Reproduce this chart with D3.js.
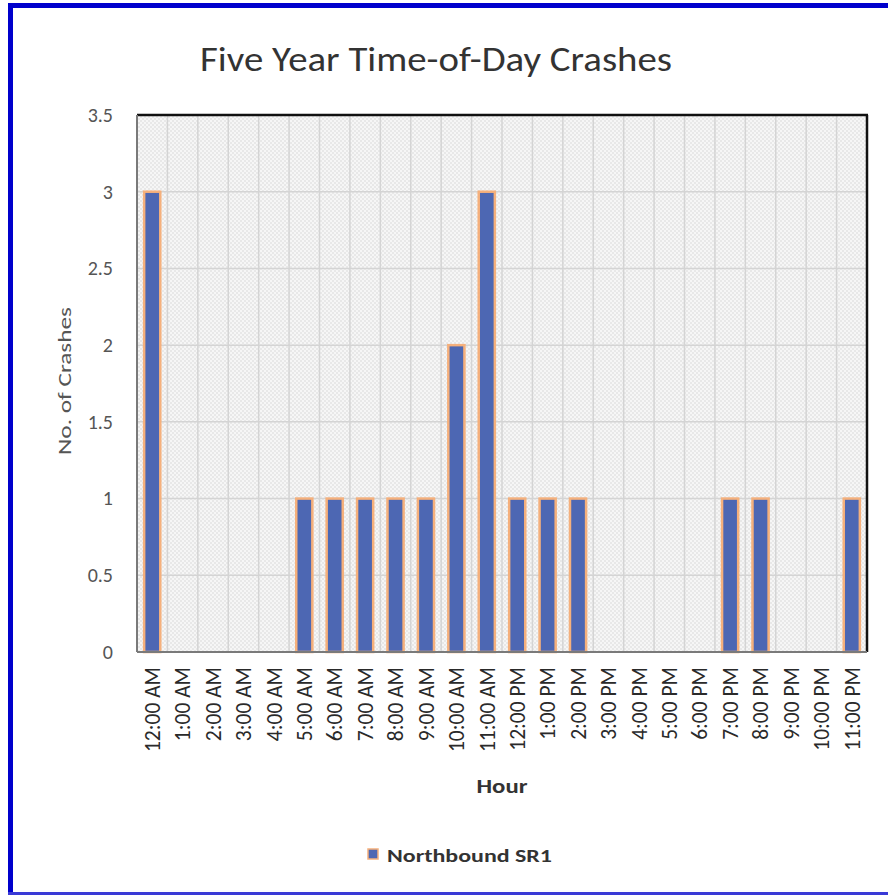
<!DOCTYPE html>
<html><head><meta charset="utf-8">
<script src="https://cdn.jsdelivr.net/npm/d3@7"></script>
<style>html,body{margin:0;padding:0;background:#fff;}svg{display:block;}</style>
</head><body>
<script>
const hours = ["12:00 AM","1:00 AM","2:00 AM","3:00 AM","4:00 AM","5:00 AM","6:00 AM","7:00 AM","8:00 AM","9:00 AM","10:00 AM","11:00 AM","12:00 PM","1:00 PM","2:00 PM","3:00 PM","4:00 PM","5:00 PM","6:00 PM","7:00 PM","8:00 PM","9:00 PM","10:00 PM","11:00 PM"];
const crashes = [3,0,0,0,0,1,1,1,1,1,2,3,1,1,1,0,0,0,0,1,1,0,0,1];
const yTicks = [0,0.5,1,1.5,2,2.5,3,3.5];
const yTickLabels = ["0","0.5","1","1.5","2","2.5","3","3.5"];
const seriesName = "Northbound SR1";
const title = "Five Year Time-of-Day Crashes";

const W = 888, H = 895;
const m = {left:137, top:115, right:867, bottom:652};
const font = "Calibri, Carlito, Lato, 'Open Sans', 'Liberation Sans', sans-serif";

const svg = d3.select("body").append("svg").attr("width", W).attr("height", H);
svg.append("rect").attr("width", W).attr("height", H).attr("fill", "#fff");

// pattern
const defs = svg.append("defs");
const pat = defs.append("pattern").attr("id","chk").attr("width",4).attr("height",4).attr("patternUnits","userSpaceOnUse");
pat.append("rect").attr("width",4).attr("height",4).attr("fill","#f6f6f6");
pat.append("rect").attr("x",0).attr("y",0).attr("width",2).attr("height",2).attr("fill","#e8e8e8");
pat.append("rect").attr("x",2).attr("y",2).attr("width",2).attr("height",2).attr("fill","#e8e8e8");

const x = d3.scaleBand().domain(hours).range([m.left, m.right]).paddingInner(0.47).paddingOuter(0.235);
const xb = d3.scaleBand().domain(hours).range([m.left, m.right]);
const y = d3.scaleLinear().domain([0,3.5]).range([m.bottom, m.top]);

svg.append("rect").attr("x", m.left).attr("y", m.top).attr("width", m.right-m.left).attr("height", m.bottom-m.top).attr("fill","url(#chk)");

// grid
svg.append("g").selectAll("line").data(yTicks).join("line")
  .attr("x1", m.left).attr("x2", m.right).attr("y1", d=>y(d)).attr("y2", d=>y(d))
  .attr("stroke","#d4d4d4").attr("stroke-width",1.5);
svg.append("g").selectAll("line").data(hours.slice(1)).join("line")
  .attr("x1", d=>xb(d)).attr("x2", d=>xb(d)).attr("y1", m.top).attr("y2", m.bottom)
  .attr("stroke","#d4d4d4").attr("stroke-width",1.5);

// bars
svg.append("g").selectAll("rect").data(crashes.map((v,i)=>({h:hours[i],v}))).join("rect")
  .filter(d=>d.v>0)
  .attr("x", d=>x(d.h)).attr("width", x.bandwidth())
  .attr("y", d=>y(d.v)).attr("height", d=>y(0)-y(d.v))
  .attr("fill","#4d67b3").attr("stroke","#f5b07c").attr("stroke-width",2.5);

// frame
svg.append("line").attr("x1",m.left).attr("x2",m.right+1).attr("y1",m.top).attr("y2",m.top).attr("stroke","#111").attr("stroke-width",2.5);
svg.append("line").attr("x1",m.right).attr("x2",m.right).attr("y1",m.top).attr("y2",m.bottom).attr("stroke","#111").attr("stroke-width",2.5);
svg.append("line").attr("x1",m.left).attr("x2",m.left).attr("y1",m.top).attr("y2",m.bottom).attr("stroke","#7a7a7a").attr("stroke-width",2);
svg.append("line").attr("x1",m.left).attr("x2",m.right).attr("y1",m.bottom).attr("y2",m.bottom).attr("stroke","#7a7a7a").attr("stroke-width",2);

// y axis
const yAxis = d3.axisLeft(y).tickValues(yTicks).tickFormat((d,i)=>yTickLabels[i]).tickSize(0).tickPadding(24);
const gy = svg.append("g").attr("transform",`translate(${m.left},0)`).call(yAxis);
gy.select(".domain").remove();
gy.selectAll("text").attr("font-family",font).attr("font-size",20).attr("fill","#555");

// x axis
const xAxis = d3.axisBottom(x).tickSize(0).tickPadding(0);
const gx = svg.append("g").attr("transform",`translate(0,${m.bottom})`).call(xAxis);
gx.select(".domain").remove();
gx.selectAll("text").attr("font-family",font).attr("font-size",21.5).attr("fill","#2a2a2a")
  .attr("text-anchor","end").attr("dy","0.36em").attr("y",0)
  .attr("transform","translate(0,15) rotate(-90)");

// title
svg.append("text").attr("x",436).attr("y",71).attr("text-anchor","middle")
  .attr("font-family",font).attr("font-size",35).attr("fill","#333")
  .attr("textLength",472).attr("lengthAdjust","spacingAndGlyphs").text(title);

// y label
svg.append("text").attr("transform","translate(71,381) rotate(-90)").attr("text-anchor","middle")
  .attr("font-family",font).attr("font-size",18).attr("fill","#555")
  .attr("textLength",148).attr("lengthAdjust","spacingAndGlyphs").text("No. of Crashes");

// x label
svg.append("text").attr("x",502).attr("y",793).attr("text-anchor","middle")
  .attr("font-family",font).attr("font-size",21).attr("font-weight","bold").attr("fill","#333")
  .attr("textLength",51).attr("lengthAdjust","spacingAndGlyphs").text("Hour");

// legend
svg.append("rect").attr("x",368).attr("y",849).attr("width",10).attr("height",10)
  .attr("fill","#4d67b3").attr("stroke","#f5b07c").attr("stroke-width",1.5);
svg.append("text").attr("x",387).attr("y",862).attr("font-family",font).attr("font-size",19)
  .attr("font-weight","bold").attr("fill","#333")
  .attr("textLength",165).attr("lengthAdjust","spacingAndGlyphs").text(seriesName);

// outer border (top, left, bottom)
svg.append("line").attr("x1",8).attr("x2",W).attr("y1",5.5).attr("y2",5.5).attr("stroke","#0000cc").attr("stroke-width",5);
svg.append("line").attr("x1",10.5).attr("x2",10.5).attr("y1",3).attr("y2",H).attr("stroke","#0000cc").attr("stroke-width",5);
svg.append("line").attr("x1",8).attr("x2",W).attr("y1",893.5).attr("y2",893.5).attr("stroke","#3a3ad6").attr("stroke-width",3);
</script>
</body></html>
